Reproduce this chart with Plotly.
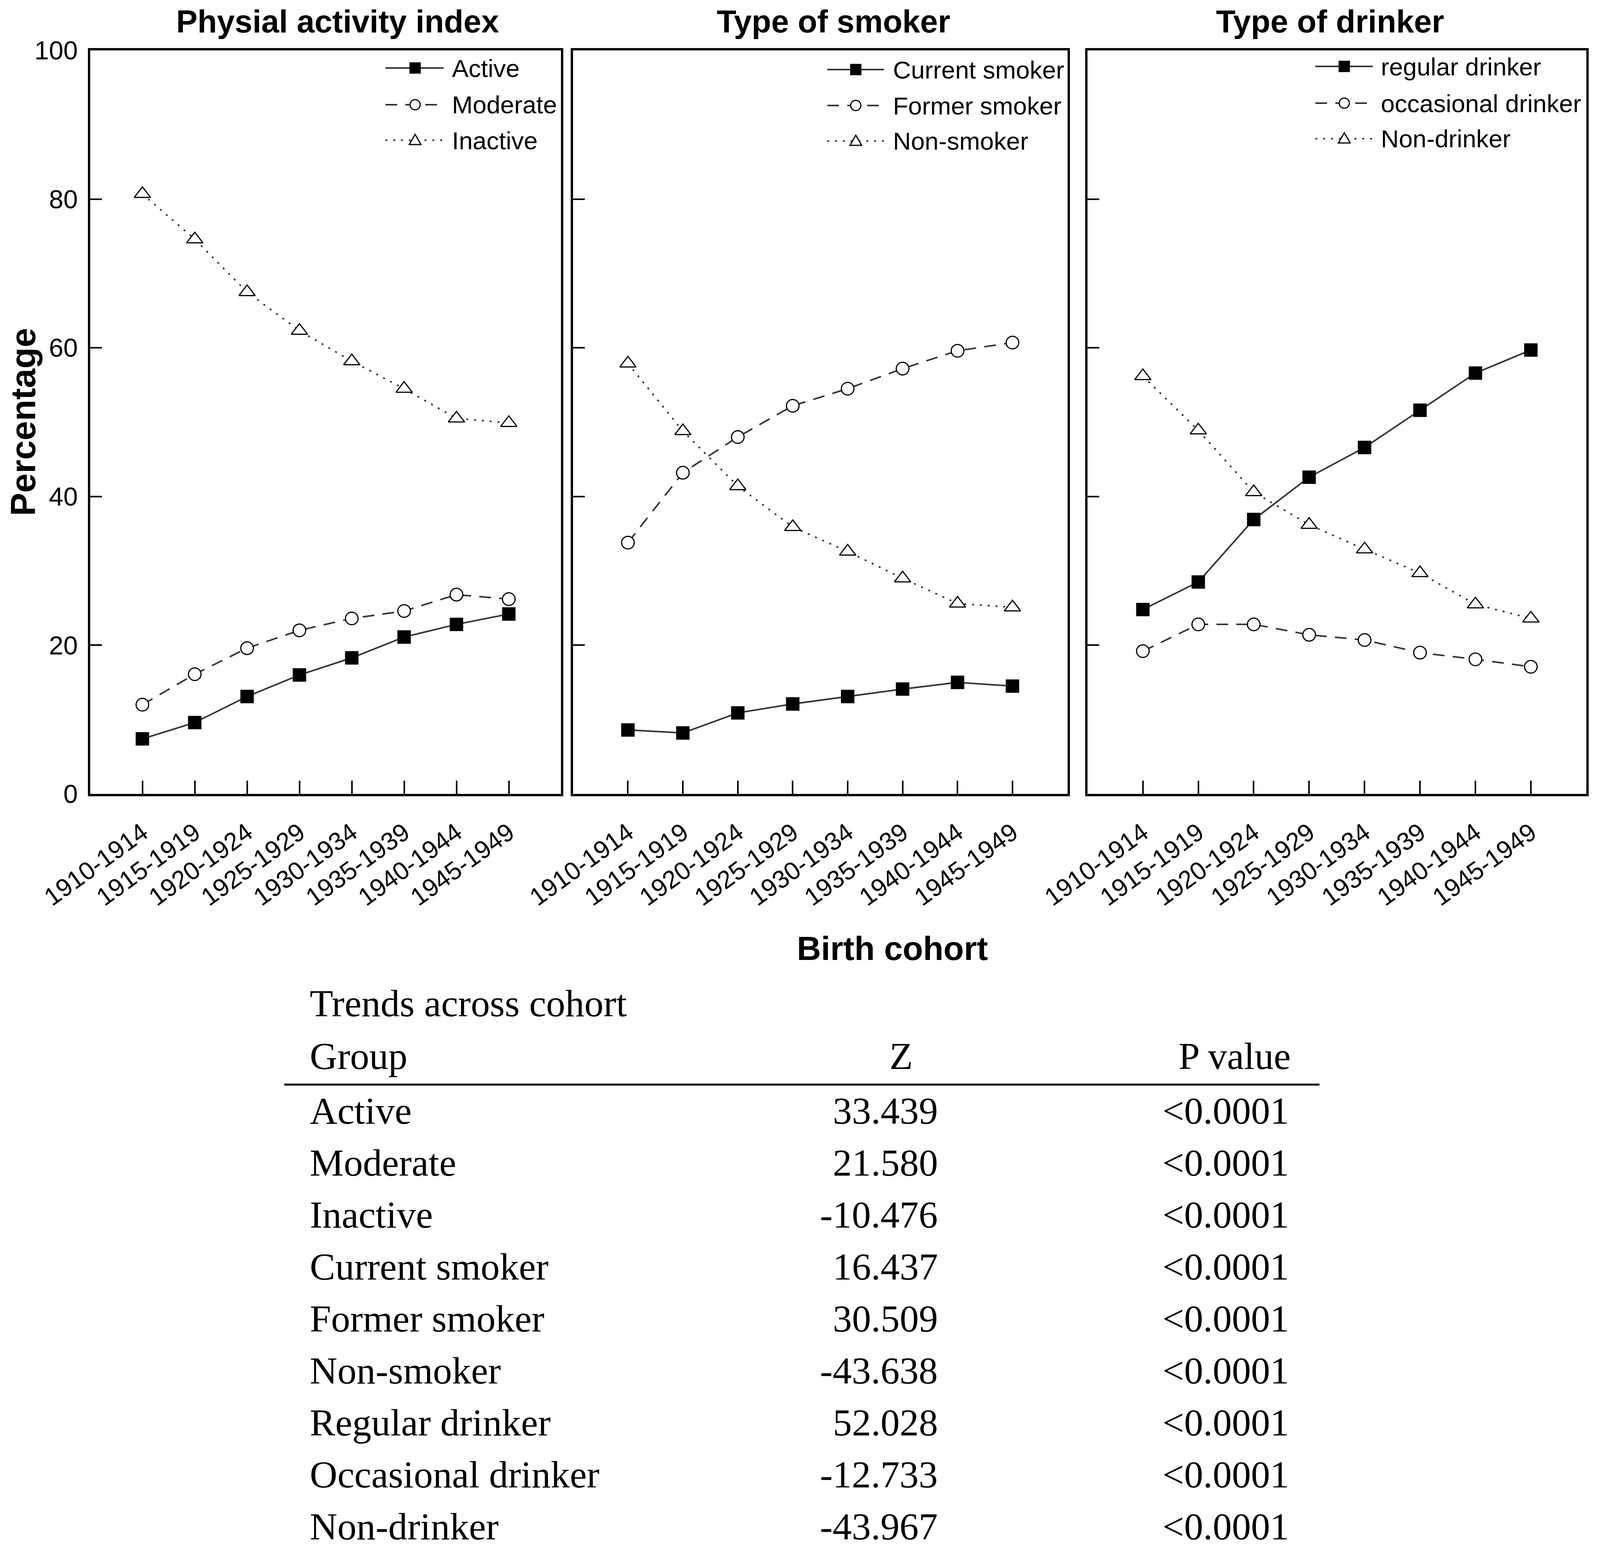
import plotly.graph_objects as go

# birth cohorts (x categories)
cohorts = ['1910-1914', '1915-1919', '1920-1924', '1925-1929',
           '1930-1934', '1935-1939', '1940-1944', '1945-1949']

# panel 1: physical activity index (%)
active = [7.4, 9.6, 13.1, 16.0, 18.3, 21.1, 22.8, 24.2]
moderate = [12.0, 16.1, 19.6, 22.0, 23.6, 24.6, 26.8, 26.2]
inactive = [80.7, 74.6, 67.5, 62.3, 58.2, 54.5, 50.5, 49.9]

# panel 2: type of smoker (%)
current_smoker = [8.6, 8.2, 10.9, 12.1, 13.1, 14.1, 15.0, 14.5]
former_smoker = [33.8, 43.2, 48.0, 52.2, 54.5, 57.2, 59.6, 60.7]
non_smoker = [57.9, 48.8, 41.4, 35.9, 32.6, 29.0, 25.6, 25.1]

# panel 3: type of drinker (%)
regular_drinker = [24.8, 28.5, 36.9, 42.6, 46.6, 51.6, 56.6, 59.7]
occasional_drinker = [19.2, 22.8, 22.8, 21.4, 20.7, 19.0, 18.1, 17.1]
non_drinker = [56.2, 48.9, 40.6, 36.2, 32.9, 29.7, 25.5, 23.6]

panel_titles = ['Physial activity index', 'Type of smoker', 'Type of drinker']
names_pa = ['Active', 'Moderate', 'Inactive']
names_sm = ['Current smoker', 'Former smoker', 'Non-smoker']
names_dr = ['regular drinker', 'occasional drinker', 'Non-drinker']

# trend table
tbl_title = 'Trends across cohort'
tbl_header = ['Group', 'Z', 'P value']
tbl_group = ['Active', 'Moderate', 'Inactive', 'Current smoker', 'Former smoker',
             'Non-smoker', 'Regular drinker', 'Occasional drinker', 'Non-drinker']
tbl_z = ['33.439', '21.580', '-10.476', '16.437', '30.509',
         '-43.638', '52.028', '-12.733', '-43.967']
tbl_p = ['<0.0001'] * 9

# the visible page is ~4096 px wide, so the figure is laid out in that box
W, H = 4080, 3964
SX = 4096 / 4317.0   # horizontal squeeze from reference pixels
OFF = 8              # body margin
FS = 0.95            # font / marker scale

def fx(x): return (x * SX - OFF) / W
def fy(y): return 1 - (y - OFF) / H
def s(v): return v * FS

SANS = 'Liberation Sans'
SERIF = 'Liberation Serif'

panels = [(names_pa, [active, moderate, inactive]),
          (names_sm, [current_smoker, former_smoker, non_smoker]),
          (names_dr, [regular_drinker, occasional_drinker, non_drinker])]

symbols = ['square', 'circle', 'triangle-up']
fills = ['black', 'white', 'white']
msizes = [33, 34, 38]
dashes = ['solid', '30px,21px', '5px,15px']

xdoms = [(243, 1514), (1546, 2880), (2934, 4280)]
ytop, ybot = 129, 2032

fig = go.Figure()
for k, (names, series) in enumerate(panels):
    ax = '' if k == 0 else str(k + 1)
    for j in range(3):
        fig.add_trace(go.Scatter(x=cohorts, y=series[j], name=names[j],
                                 mode='lines+markers', xaxis='x' + ax, yaxis='y' + ax,
                                 line=dict(color='#333333', width=4, dash=dashes[j]),
                                 marker=dict(symbol=symbols[j], size=s(msizes[j]), color=fills[j],
                                             line=dict(color='black', width=3)),
                                 showlegend=False))
    fig.layout['xaxis' + ax] = dict(
        domain=[fx(xdoms[k][0]), fx(xdoms[k][1])], anchor='y' + ax,
        type='category', range=[-1, 8], tickangle=-36, automargin=False,
        ticks='inside', ticklen=34, tickwidth=4, tickcolor='black',
        showline=True, linewidth=6, linecolor='black', mirror=True,
        showgrid=False, zeroline=False, ticklabelstandoff=30,
        tickfont=dict(family=SANS, size=s(68), color='black'))
    fig.layout['yaxis' + ax] = dict(
        domain=[fy(ybot), fy(ytop)], anchor='x' + ax, range=[0, 100],
        tickvals=[0, 20, 40, 60, 80, 100], automargin=False,
        ticks='inside', ticklen=30, tickwidth=4, tickcolor='black',
        showticklabels=(k == 0), ticklabelstandoff=12,
        showline=True, linewidth=6, linecolor='black', mirror=True,
        showgrid=False, zeroline=False,
        tickfont=dict(family=SANS, size=s(70), color='black'))

annotations = []
shapes = []

# panel titles
title_x = [911, 2249, 3589]
for k in range(3):
    annotations.append(dict(text='<b>' + panel_titles[k] + '</b>', x=fx(title_x[k]), y=fy(54),
                            xref='paper', yref='paper', showarrow=False,
                            xanchor='center', yanchor='middle',
                            font=dict(family=SANS, size=s(86), color='black')))

annotations.append(dict(text='<b>Percentage</b>', x=fx(62), y=fy(1080), xref='paper', yref='paper',
                        showarrow=False, textangle=-90, xanchor='center', yanchor='middle',
                        font=dict(family=SANS, size=s(94), color='black')))
annotations.append(dict(text='<b>Birth cohort</b>', x=fx(2408), y=fy(2427), xref='paper', yref='paper',
                        showarrow=False, xanchor='center', yanchor='middle',
                        font=dict(family=SANS, size=s(90), color='black')))

# hand-made legends (line sample, marker, label) inside each panel
leg = [(1040, 1197, 1120, 1217, [174, 268, 359]),
       (2232, 2385, 2309, 2407, [178, 270, 361]),
       (3549, 3704, 3627, 3724, [170, 264, 355])]
for k, (names, _) in enumerate(panels):
    x0, x1, mx, tx, rows = leg[k]
    for j in range(3):
        yy = fy(rows[j])
        shapes.append(dict(type='line', xref='paper', yref='paper', x0=fx(x0), x1=fx(x1), y0=yy, y1=yy,
                           line=dict(color='#333333', width=4, dash=dashes[j])))
        common = dict(xref='paper', yref='paper', xsizemode='pixel', ysizemode='pixel',
                      xanchor=fx(mx), yanchor=yy, fillcolor=fills[j], line=dict(color='black', width=3))
        if j == 0:
            shapes.append(dict(type='rect', x0=-13, x1=13, y0=-13, y1=13, **common))
        elif j == 1:
            shapes.append(dict(type='circle', x0=-13, x1=13, y0=-13, y1=13, **common))
        else:
            shapes.append(dict(type='path', path='M-15,-11 L15,-11 L0,15 Z', **common))
        annotations.append(dict(text=names[j], x=fx(tx), y=yy, xref='paper', yref='paper',
                                showarrow=False, xanchor='left', yanchor='middle',
                                font=dict(family=SANS, size=s(67), color='black')))

# trend table
tfont = dict(family=SERIF, size=s(103), color='black')
annotations.append(dict(text=tbl_title, x=fx(834), y=fy(2568), xref='paper', yref='paper',
                        showarrow=False, xanchor='left', yanchor='middle', font=tfont))
annotations.append(dict(text=tbl_header[0], x=fx(834), y=fy(2703), xref='paper', yref='paper',
                        showarrow=False, xanchor='left', yanchor='middle', font=tfont))
annotations.append(dict(text=tbl_header[1], x=fx(2431), y=fy(2703), xref='paper', yref='paper',
                        showarrow=False, xanchor='center', yanchor='middle', font=tfont))
annotations.append(dict(text=tbl_header[2], x=fx(3484), y=fy(2703), xref='paper', yref='paper',
                        showarrow=False, xanchor='right', yanchor='middle', font=tfont))
shapes.append(dict(type='line', xref='paper', yref='paper', x0=fx(767), x1=fx(3560),
                   y0=fy(2776), y1=fy(2776), line=dict(color='black', width=5)))
for i in range(len(tbl_group)):
    yy = fy(2843 + i * 133)
    annotations.append(dict(text=tbl_group[i], x=fx(834), y=yy, xref='paper', yref='paper',
                            showarrow=False, xanchor='left', yanchor='middle', font=tfont))
    annotations.append(dict(text=tbl_z[i], x=fx(2533), y=yy, xref='paper', yref='paper',
                            showarrow=False, xanchor='right', yanchor='middle', font=tfont))
    annotations.append(dict(text=tbl_p[i].replace('<', '&lt;'), x=fx(3480), y=yy, xref='paper', yref='paper',
                            showarrow=False, xanchor='right', yanchor='middle', font=tfont))

fig.update_layout(template='none', width=W, height=H, margin=dict(l=0, r=0, t=0, b=0, pad=0),
                  paper_bgcolor='white', plot_bgcolor='white', showlegend=False,
                  annotations=annotations, shapes=shapes)

fig.write_html("out.html")
